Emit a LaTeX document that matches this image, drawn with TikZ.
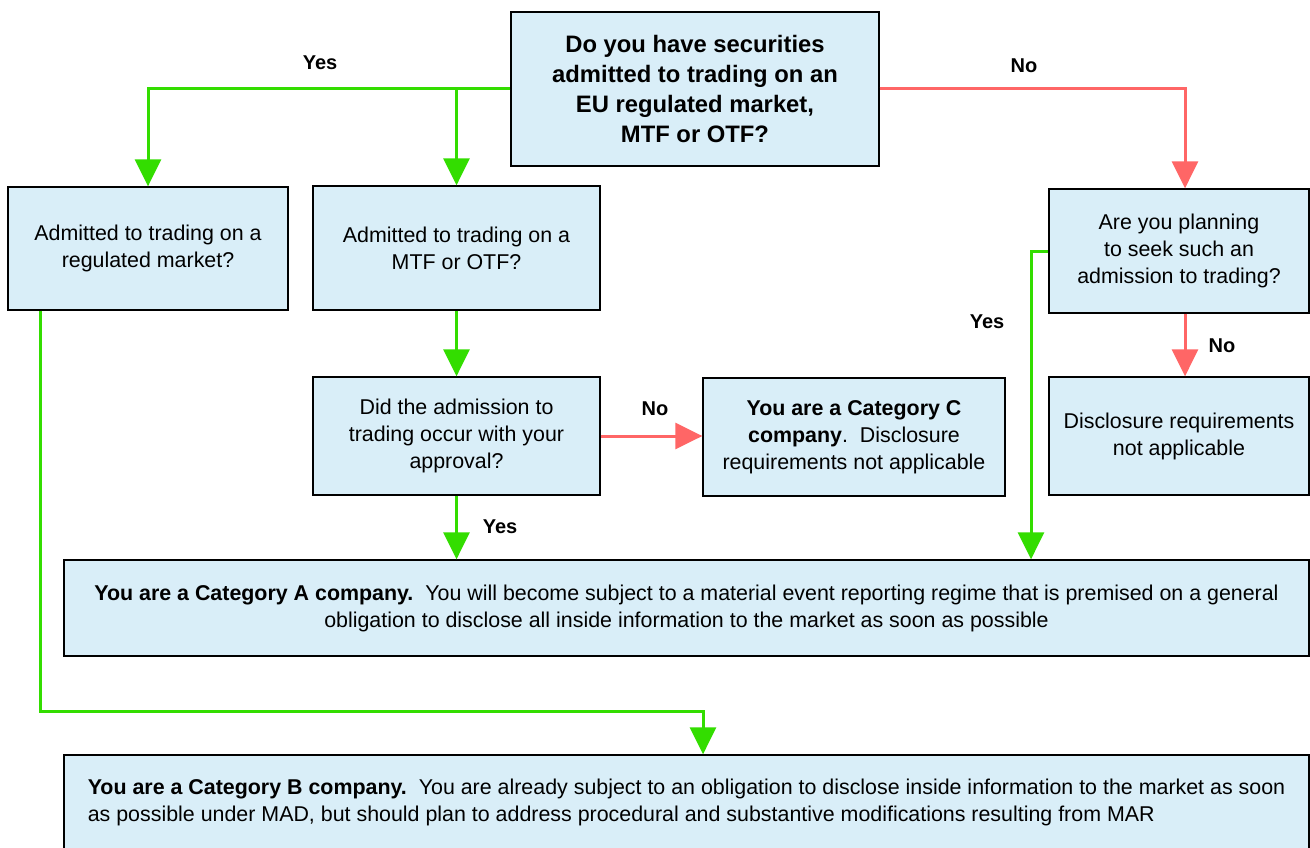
\documentclass[tikz,border=0pt]{standalone}
\usepackage{fontspec}
\setmainfont{Liberation Sans}
\usetikzlibrary{arrows.meta}
\definecolor{boxfill}{HTML}{D9EEF8}
\definecolor{yesgreen}{HTML}{33DD00}
\definecolor{nored}{HTML}{FF6666}
\begin{document}
\begin{tikzpicture}[x=1pt,y=-1pt,
  box/.style={draw=black,line width=1.3pt,fill=boxfill,inner sep=0pt,align=center,
    font=\fontsize{21.4}{27}\selectfont},
  yesarr/.style={draw=yesgreen,line width=3pt,-{Triangle[width=26pt,length=27pt]}},
  noarr/.style={draw=nored,line width=3pt,-{Triangle[width=26pt,length=27pt]}},
  lbl/.style={font=\fontsize{20}{24}\selectfont\bfseries,inner sep=0pt}]
\useasboundingbox (0,0) rectangle (1310,848);
\node[box,minimum width=368pt,minimum height=154pt,font=\fontsize{23.8}{30}\selectfont\bfseries] (q) at (695,89)
  {Do you have securities\\admitted to trading on an\\EU regulated market,\\MTF or OTF?};
\node[box,minimum width=280pt,minimum height=123pt] (b1) at (148,248.5)
  {Admitted to trading on a\\regulated market?};
\node[box,minimum width=287pt,minimum height=124pt] (b2) at (456.5,248)
  {Admitted to trading on a\\MTF or OTF?};
\node[box,minimum width=260pt,minimum height=124pt] (b3) at (1179,251)
  {Are you planning\\to seek such an\\admission to trading?};
\node[box,minimum width=287pt,minimum height=118pt] (b4) at (456.5,436)
  {Did the admission to\\trading occur with your\\approval?};
\node[box,minimum width=302pt,minimum height=118pt] (b5) at (854,437)
  {\textbf{You are a Category C}\\\textbf{company}.\ \ Disclosure\\requirements not applicable};
\node[box,minimum width=260pt,minimum height=118pt] (b6) at (1179,436)
  {Disclosure requirements\\not applicable};
\node[box,minimum width=1245pt,minimum height=96pt] (ca) at (686.5,608)
  {\textbf{You are a Category A company.}\ \ You will become subject to a material event reporting regime that is premised on a general\\obligation to disclose all inside information to the market as soon as possible};
\node[box,minimum width=1245pt,minimum height=95pt,align=left] (cb) at (686.5,802.5)
  {\textbf{You are a Category B company.}\ \ You are already subject to an obligation to disclose inside information to the market as soon\\as possible under MAD, but should plan to address procedural and substantive modifications resulting from MAR};
\coordinate (xno) at (1185,0);
\coordinate (xyes) at (1031,0);
\coordinate (x40) at (40,0);
\coordinate (bend) at (703,711);
% arrows
\draw[yesarr] (q.west) -| (b1.north);
\draw[yesarr] (q.west -| b2.north) -- (b2.north);
\draw[noarr] (q.east) -| (b3.north -| xno);
\draw[yesarr] (b2.south) -- (b4.north);
\draw[noarr] (b4.east) -- (b5.west |- b4.east);
\draw[yesarr] (b4.south) -- (ca.north -| b4.south);
\draw[noarr] (b3.south -| xno) -- (b6.north -| xno);
\draw[yesarr] (b3.west) -| (ca.north -| xyes);
\draw[yesarr] (b1.south -| x40) |- (bend) -- (cb.north -| bend);
% labels
\node[lbl] (l1) at (320,63) {Yes};
\node[lbl] (l2) at (1024,66) {No};
\node[lbl] (l3) at (655,409) {No};
\node[lbl] (l4) at (500,527) {Yes};
\node[lbl] (l5) at (1222,346) {No};
\node[lbl] (l6) at (987,322) {Yes};
\end{tikzpicture}
\end{document}
